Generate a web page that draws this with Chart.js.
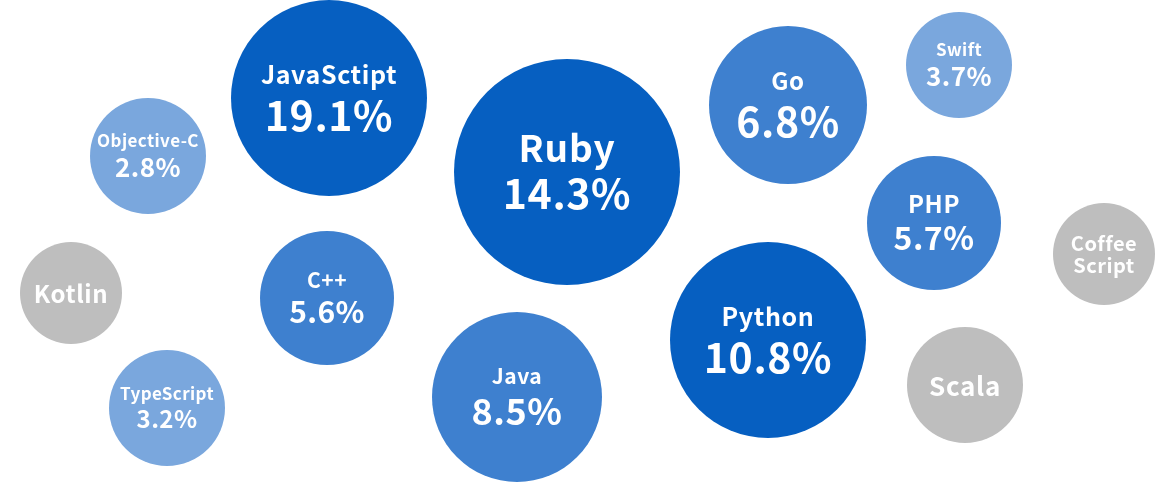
<!DOCTYPE html>
<html lang="en">
<head>
  <meta charset="UTF-8">
  <title>Language share</title>
  <script src="https://cdn.jsdelivr.net/npm/chart.js"></script>
  <style>
    html, body {
      margin: 0;
      padding: 0;
      background: #ffffff;
    }
    #chart {
      display: block;
    }
  </style>
</head>
<body>
  <canvas id="chart" width="1176" height="482"></canvas>

  <script>
    // data
    const languages = ['JavaSctipt', 'Ruby', 'Objective-C', 'Kotlin', 'C++', 'TypeScript', 'Java',
                       'Go', 'Swift', 'PHP', 'Coffee\nScript', 'Python', 'Scala'];
    const shares = [19.1, 14.3, 2.8, null, 5.6, 3.2, 8.5, 6.8, 3.7, 5.7, null, 10.8, null];
    const bubbleX = [329, 567, 148, 71, 327, 167, 517, 788, 959, 934, 1104, 768, 965];
    const bubbleY = [98, 172, 156, 293, 298, 408, 397, 105, 65, 223, 254, 340, 385];
    const bubbleR = [98, 113, 58, 51, 67, 58, 85, 79, 53, 67, 51, 98, 58];

    // text styles per bubble
    const labelSize = [25, 37, 17, 24, 21, 17, 21, 24, 17, 24, 20, 25, 26];
    const valueSize = [41, 41, 26, 0, 30, 24, 36, 41, 26, 32, 0, 41, 0];

    const FONT = '"Noto Sans CJK JP", "Noto Sans", sans-serif';
    const CAP = 0.733;

    function tierColor(v) {
      if (v == null) return '#bebebe';
      if (v >= 10) return '#065fc1';
      if (v >= 5) return '#3e80cf';
      return '#7aa7dd';
    }

    // Draws the names and percentages inside the bubbles
    const bubbleText = {
      id: 'bubbleText',
      afterDatasetsDraw(chart) {
        const ctx = chart.ctx;
        const meta = chart.getDatasetMeta(0);
        ctx.save();
        ctx.fillStyle = '#ffffff';
        ctx.textAlign = 'center';
        ctx.textBaseline = 'alphabetic';
        meta.data.forEach((el, i) => {
          const cx = el.x;
          const cy = el.y;
          const ls = labelSize[i];
          const lines = languages[i].split('\n');
          const v = shares[i];
          ctx.font = 'bold ' + ls + 'px ' + FONT;
          ctx.letterSpacing = (ls * 0.025).toFixed(1) + 'px';
          if (v == null) {
            const lh = ls * 1.1;
            const block = ls * CAP + lh * (lines.length - 1);
            let base = cy - block / 2 + ls * CAP + 1;
            lines.forEach(t => {
              ctx.fillText(t, cx, base);
              base += lh;
            });
          } else {
            const vs = valueSize[i];
            const gap = vs * 0.42;
            const block = ls * CAP + gap + vs * CAP;
            const top = cy - block / 2;
            ctx.fillText(lines[0], cx, top + ls * CAP);
            ctx.font = 'bold ' + vs + 'px ' + FONT;
            ctx.letterSpacing = (vs * 0.015).toFixed(1) + 'px';
            ctx.fillText(v.toFixed(1) + '%', cx, top + block);
          }
        });
        ctx.restore();
      }
    };

    const points = languages.map((name, i) => ({ x: bubbleX[i], y: bubbleY[i], r: bubbleR[i] }));

    new Chart(document.getElementById('chart'), {
      type: 'bubble',
      data: {
        labels: languages,
        datasets: [{
          data: points,
          backgroundColor: shares.map(tierColor),
          borderWidth: 0,
          hoverBorderWidth: 0,
          clip: false
        }]
      },
      options: {
        responsive: false,
        animation: false,
        events: [],
        layout: { padding: 0, autoPadding: false },
        plugins: {
          legend: { display: false },
          tooltip: { enabled: false }
        },
        scales: {
          x: { type: 'linear', min: 0, max: 1176, display: false },
          y: { type: 'linear', min: 0, max: 482, reverse: true, display: false }
        }
      },
      plugins: [bubbleText]
    });
  </script>
</body>
</html>
